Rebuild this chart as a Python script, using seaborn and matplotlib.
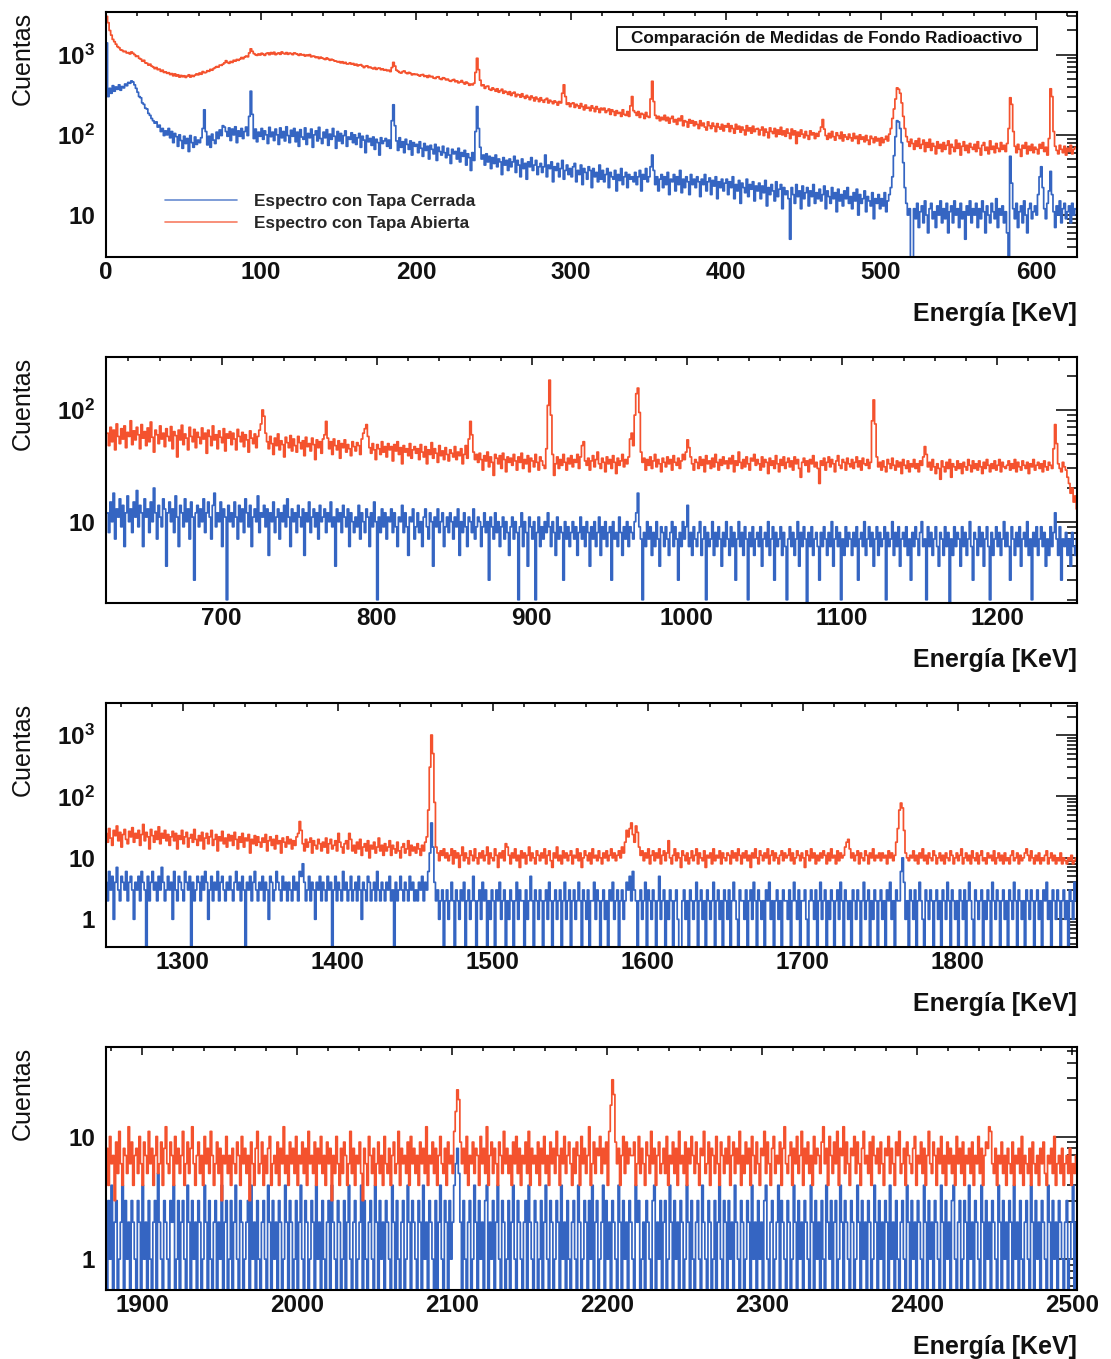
import numpy as np
import matplotlib
matplotlib.use("Agg")
import matplotlib.pyplot as plt
import seaborn as sns
from matplotlib.ticker import FixedLocator, LogLocator, MultipleLocator, FuncFormatter, NullFormatter
from matplotlib.lines import Line2D
from matplotlib.patches import Rectangle

# ---------------- data (counts per 1 keV bin) ----------------
# Panel 1 : 0 - 626 keV
RED1 = [3000, 2500, 2000, 1750, 1550, 1450, 1350, 1260, 1220, 1150, 1130, 1090, 1100, 1050, 1060, 1020, 1080, 1040, 1000, 950,
        960, 900, 880, 830, 850, 790, 780, 740, 760, 720, 700, 670, 690, 650, 660, 620, 640, 600, 610, 585,
        595, 565, 580, 545, 575, 540, 560, 525, 550, 530, 545, 520, 540, 560, 525, 550, 535, 555, 575, 560,
        590, 570, 615, 595, 600, 630, 620, 655, 640, 670, 690, 710, 700, 740, 735, 760, 790, 840, 800, 780,
        820, 800, 850, 830, 870, 850, 880, 920, 890, 930, 960, 940, 1050, 1180, 1100, 1030, 1000, 980, 1020, 990,
        1040, 1010, 980, 1030, 1050, 1000, 1060, 1020, 1070, 1000, 1030, 1050, 1010, 1080, 1040, 1020, 1060, 1010, 1045, 1030,
        1000, 1050, 1030, 1010, 980, 1020, 990, 1000, 960, 990, 970, 1000, 940, 960, 950, 920, 935, 895, 930, 905,
        890, 870, 910, 880, 850, 875, 860, 835, 830, 810, 820, 790, 815, 780, 800, 765, 770, 790, 760, 775,
        740, 760, 725, 745, 750, 720, 690, 715, 725, 690, 700, 680, 665, 690, 655, 675, 680, 650, 665, 640,
        650, 630, 640, 615, 690, 800, 720, 640, 620, 600, 590, 615, 625, 595, 580, 600, 585, 560, 575, 565,
        570, 555, 540, 560, 565, 535, 545, 520, 550, 530, 535, 510, 505, 525, 530, 500, 490, 515, 505, 485,
        495, 475, 465, 480, 490, 460, 470, 445, 455, 475, 450, 430, 455, 440, 415, 430, 420, 440, 600, 900,
        650, 480, 410, 420, 380, 400, 405, 370, 360, 385, 370, 350, 375, 340, 355, 370, 330, 350, 340, 320,
        345, 310, 330, 340, 300, 320, 315, 295, 325, 300, 285, 310, 295, 275, 305, 290, 265, 295, 280, 260,
        290, 270, 255, 275, 285, 250, 270, 260, 245, 265, 255, 235, 260, 250, 330, 420, 300, 240, 250, 225,
        245, 250, 220, 240, 230, 215, 245, 225, 205, 235, 215, 220, 200, 230, 215, 195, 225, 210, 190, 215,
        205, 215, 190, 200, 210, 180, 205, 195, 175, 200, 185, 190, 170, 205, 180, 175, 195, 170, 230, 300,
        200, 190, 175, 195, 165, 185, 180, 160, 190, 170, 165, 280, 465, 260, 175, 160, 170, 150, 165, 155,
        175, 150, 165, 140, 160, 170, 145, 155, 135, 160, 150, 172, 130, 150, 145, 125, 155, 140, 150, 130,
        145, 135, 120, 150, 130, 140, 125, 115, 145, 130, 120, 140, 128, 110, 138, 125, 118, 135, 112, 130,
        125, 138, 110, 130, 120, 105, 135, 118, 128, 108, 125, 115, 100, 130, 112, 122, 105, 128, 110, 118,
        120, 100, 115, 125, 98, 118, 108, 92, 122, 110, 104, 120, 95, 115, 102, 124, 100, 112, 96, 118,
        105, 90, 118, 100, 112, 78, 108, 96, 115, 102, 92, 110, 98, 88, 112, 100, 106, 90, 104, 96,
        110, 125, 155, 118, 98, 88, 104, 92, 110, 95, 86, 106, 98, 90, 108, 84, 100, 94, 88, 102,
        92, 84, 104, 90, 96, 78, 100, 88, 94, 82, 98, 86, 76, 96, 90, 80, 94, 84, 90, 74,
        92, 80, 88, 96, 84, 102, 120, 160, 210, 280, 385, 370, 330, 250, 170, 120, 95, 82, 72, 88,
        78, 66, 84, 72, 90, 68, 76, 86, 62, 80, 70, 88, 64, 78, 72, 58, 82, 68, 76, 62,
        80, 66, 74, 84, 58, 76, 70, 62, 86, 68, 78, 56, 72, 82, 64, 74, 60, 78, 70, 66,
        76, 62, 82, 68, 56, 74, 80, 64, 70, 58, 84, 66, 72, 60, 78, 68, 62, 80, 66, 74,
        62, 78, 120, 290, 240, 110, 72, 60, 76, 66, 54, 74, 68, 80, 58, 72, 64, 76, 60, 70,
        66, 58, 76, 68, 80, 62, 70, 56, 90, 375, 300, 110, 72, 64, 58, 74, 66, 60, 72, 56,
        68, 62, 74, 58, 66, 70]

BLUE1 = [1400, 300, 380, 330, 410, 350, 395, 370, 420, 360, 400, 385, 430, 410, 450, 440, 470, 455, 420, 380,
         340, 300, 290, 250, 240, 215, 210, 185, 175, 160, 150, 140, 145, 125, 132, 110, 120, 98, 112, 100,
         120, 92, 110, 80, 104, 95, 72, 100, 85, 68, 96, 78, 90, 62, 98, 80, 70, 94, 76, 86,
         80, 92, 120, 205, 110, 75, 96, 70, 102, 86, 78, 108, 90, 115, 98, 130, 125, 110, 96, 122,
         85, 118, 100, 126, 80, 112, 96, 120, 90, 110, 125, 98, 170, 350, 180, 90, 118, 82, 108, 96,
         120, 88, 112, 100, 78, 124, 95, 108, 85, 118, 100, 76, 122, 92, 110, 84, 126, 98, 80, 114,
         96, 120, 82, 108, 72, 116, 94, 88, 122, 76, 104, 92, 118, 70, 100, 112, 84, 124, 90, 78,
         108, 92, 116, 74, 102, 88, 120, 96, 68, 110, 84, 104, 78, 98, 112, 72, 94, 88, 106, 80,
         100, 76, 92, 104, 70, 96, 86, 60, 98, 82, 90, 74, 94, 66, 88, 80, 56, 92, 78, 84,
         90, 72, 86, 68, 150, 237, 130, 84, 64, 92, 70, 82, 60, 88, 76, 66, 84, 56, 80, 72,
         76, 60, 82, 68, 54, 78, 64, 72, 50, 74, 66, 58, 76, 48, 70, 62, 56, 72, 60, 52,
         68, 56, 44, 66, 58, 62, 50, 68, 46, 60, 54, 64, 42, 58, 52, 36, 60, 48, 110, 225,
         120, 70, 50, 56, 42, 58, 46, 54, 38, 52, 44, 56, 40, 50, 46, 32, 52, 42, 48, 36,
         50, 40, 46, 54, 34, 48, 42, 30, 50, 38, 44, 28, 46, 40, 52, 36, 42, 48, 32, 40,
         44, 34, 40, 56, 30, 42, 38, 46, 26, 40, 36, 44, 30, 38, 48, 28, 36, 42, 32, 38,
         30, 40, 44, 26, 36, 32, 42, 24, 38, 34, 28, 40, 36, 22, 38, 30, 34, 26, 42, 28,
         36, 26, 32, 38, 22, 34, 30, 28, 36, 20, 32, 27, 38, 24, 30, 34, 22, 32, 28, 30,
         26, 34, 24, 30, 36, 20, 32, 28, 38, 26, 30, 40, 56, 36, 24, 30, 20, 28, 32, 22,
         30, 24, 34, 18, 28, 26, 32, 20, 30, 24, 36, 19, 28, 22, 30, 26, 18, 32, 24, 28,
         22, 30, 26, 17, 28, 24, 32, 20, 26, 29, 18, 27, 23, 30, 16, 26, 22, 28, 20, 25,
         28, 18, 26, 22, 30, 16, 24, 20, 27, 14, 25, 22, 19, 28, 17, 24, 21, 26, 15, 23,
         20, 25, 16, 23, 19, 27, 13, 22, 18, 24, 20, 15, 26, 17, 21, 24, 12, 22, 18, 20,
         16, 5, 22, 18, 14, 24, 17, 20, 12, 23, 16, 19, 22, 13, 20, 17, 24, 14, 19, 16,
         21, 15, 18, 23, 12, 20, 17, 14, 22, 16, 19, 11, 21, 15, 18, 13, 20, 16, 22, 14,
         17, 12, 19, 15, 21, 10, 18, 14, 16, 20, 11, 17, 15, 13, 19, 9, 16, 14, 18, 12,
         16, 13, 19, 11, 15, 18, 22, 30, 55, 95, 150, 145, 120, 80, 45, 22, 14, 10, 12, 0,
         0, 12, 9, 14, 7, 11, 13, 8, 15, 10, 6, 12, 14, 9, 11, 7, 13, 10, 15, 8,
         12, 9, 14, 6, 11, 13, 8, 15, 10, 12, 7, 14, 9, 11, 5, 13, 10, 15, 8, 12,
         10, 14, 7, 12, 9, 15, 11, 6, 13, 10, 8, 14, 11, 9, 16, 7, 12, 10, 13, 8,
         11, 6, 0, 54, 25, 12, 9, 14, 7, 11, 13, 8, 15, 10, 6, 12, 14, 9, 11, 13,
         10, 18, 30, 40, 22, 12, 9, 14, 20, 35, 18, 11, 7, 13, 10, 15, 8, 12, 14, 9,
         11, 13, 8, 14, 10, 12]

# Panel 2 : 626 - 1252 keV
RED2 = [62, 48, 70, 52, 66, 44, 75, 58, 50, 68, 55, 72, 46, 63, 58, 80, 49, 65, 54, 70,
        60, 45, 74, 56, 64, 48, 69, 52, 78, 57, 42, 66, 60, 50, 72, 55, 62, 47, 68, 58,
        53, 71, 45, 64, 59, 38, 66, 54, 73, 49, 61, 56, 44, 70, 58, 52, 67, 46, 63, 57,
        50, 69, 55, 62, 41, 66, 58, 48, 72, 54, 60, 45, 65, 57, 51, 68, 43, 61, 56, 64,
        49, 62, 55, 44, 67, 58, 52, 63, 47, 60, 54, 42, 65, 56, 50, 61, 46, 58, 66, 75,
        100, 88, 62, 52, 45, 58, 50, 40, 56, 48, 61, 44, 53, 49, 38, 57, 51, 46, 59, 43,
        55, 48, 42, 58, 51, 45, 53, 39, 57, 47, 50, 43, 56, 49, 36, 54, 46, 52, 41, 55,
        60, 79, 56, 45, 52, 40, 55, 48, 44, 53, 37, 50, 46, 54, 42, 49, 45, 39, 52, 47,
        43, 51, 48, 40, 55, 62, 68, 74, 58, 46, 41, 50, 44, 36, 49, 45, 40, 52, 42, 47,
        38, 50, 44, 47, 35, 49, 43, 52, 40, 46, 33, 48, 42, 45, 39, 50, 37, 44, 47, 41,
        45, 36, 49, 42, 38, 47, 33, 44, 40, 51, 37, 45, 41, 34, 48, 39, 43, 36, 46, 40,
        35, 44, 41, 38, 47, 36, 42, 39, 45, 33, 40, 48, 37, 55, 79, 60, 42, 36, 40, 34,
        41, 36, 29, 39, 35, 42, 31, 38, 34, 26, 40, 37, 33, 39, 30, 41, 36, 28, 38, 34,
        37, 32, 40, 35, 29, 38, 34, 41, 30, 36, 33, 39, 28, 37, 35, 31, 40, 34, 29, 38,
        35, 32, 30, 45, 110, 185, 90, 40, 26, 33, 38, 30, 36, 32, 40, 34, 29, 37, 33, 39,
        31, 36, 34, 40, 30, 38, 48, 52, 35, 32, 37, 29, 35, 39, 31, 36, 42, 33, 30, 37,
        34, 28, 38, 33, 36, 30, 39, 34, 27, 37, 32, 35, 40, 31, 36, 33, 38, 55, 62, 48,
        90, 140, 157, 95, 42, 34, 37, 29, 36, 32, 38, 30, 35, 40, 31, 36, 33, 28, 37, 34,
        31, 38, 33, 36, 29, 39, 34, 32, 37, 30, 35, 40, 36, 42, 54, 46, 38, 33, 29, 36,
        34, 30, 38, 32, 36, 28, 39, 33, 35, 30, 37, 31, 40, 34, 29, 36, 32, 38, 33, 35,
        30, 37, 33, 39, 28, 35, 32, 42, 34, 30, 36, 31, 38, 33, 29, 37, 35, 40, 32, 36,
        33, 29, 38, 31, 36, 34, 27, 37, 32, 35, 30, 39, 33, 28, 36, 32, 38, 30, 34, 37,
        31, 35, 29, 38, 33, 36, 30, 25, 34, 37, 32, 35, 28, 36, 33, 39, 31, 34, 30, 22,
        35, 32, 37, 29, 34, 38, 31, 36, 33, 28, 35, 39, 32, 30, 36, 34, 29, 37, 33, 31,
        36, 30, 34, 38, 31, 35, 29, 37, 33, 32, 36, 30, 34, 80, 123, 75, 38, 31, 34, 29,
        35, 31, 28, 36, 33, 30, 37, 32, 29, 35, 31, 34, 27, 36, 32, 30, 35, 28, 33, 31,
        36, 30, 33, 28, 35, 32, 38, 47, 40, 31, 34, 29, 36, 31, 27, 33, 30, 24, 35, 31,
        28, 34, 30, 36, 25, 33, 31, 29, 35, 30, 33, 27, 34, 31, 29, 36, 32, 28, 35, 30,
        33, 29, 35, 31, 27, 34, 30, 36, 32, 28, 33, 30, 35, 29, 32, 36, 28, 34, 31, 30,
        32, 35, 29, 33, 30, 36, 28, 34, 31, 29, 35, 32, 30, 34, 27, 33, 31, 36, 29, 32,
        34, 30, 33, 28, 35, 31, 29, 34, 32, 30, 45, 74, 50, 33, 30, 28, 34, 31, 29, 25,
        22, 18, 20, 15, 17, 13]

BLUE2 = [12, 8, 15, 10, 18, 7, 13, 11, 16, 9, 14, 6, 12, 17, 10, 13, 8, 15, 11, 19,
         9, 14, 12, 6, 16, 11, 13, 8, 15, 10, 20, 12, 7, 14, 11, 9, 16, 13, 4, 12,
         15, 10, 13, 8, 17, 11, 6, 14, 12, 9, 16, 10, 13, 7, 15, 11, 3, 12, 14, 9,
         13, 10, 16, 8, 12, 15, 11, 7, 14, 18, 9, 12, 10, 15, 6, 13, 11, 2, 14, 10,
         12, 9, 15, 11, 7, 14, 10, 13, 8, 16, 12, 9, 14, 6, 11, 13, 10, 17, 8, 12,
         11, 14, 9, 13, 5, 12, 10, 15, 8, 11, 13, 7, 12, 10, 14, 9, 16, 11, 6, 13,
         10, 12, 8, 14, 11, 9, 13, 5, 12, 10, 15, 8, 11, 13, 9, 12, 7, 14, 10, 11,
         13, 8, 12, 10, 15, 9, 11, 4, 13, 10, 12, 8, 14, 11, 9, 13, 6, 12, 10, 8,
         11, 9, 14, 7, 12, 10, 8, 13, 11, 6, 12, 9, 15, 10, 2, 11, 8, 13, 9, 12,
         7, 11, 10, 13, 8, 12, 9, 6, 11, 10, 14, 8, 12, 9, 5, 11, 10, 13, 7, 9,
         12, 8, 10, 6, 11, 13, 9, 7, 12, 10, 4, 11, 9, 13, 8, 10, 12, 6, 9, 11,
         8, 12, 10, 7, 11, 9, 13, 5, 10, 8, 12, 9, 6, 11, 10, 8, 13, 7, 9, 11,
         10, 6, 9, 12, 8, 10, 3, 11, 9, 7, 12, 8, 10, 6, 9, 11, 7, 10, 8, 5,
         9, 11, 7, 10, 8, 2, 9, 12, 6, 10, 8, 4, 11, 9, 7, 10, 2, 8, 11, 6,
         9, 7, 10, 8, 12, 9, 6, 10, 8, 5, 11, 7, 9, 8, 3, 10, 7, 9, 6, 8,
         10, 7, 9, 5, 8, 11, 7, 9, 6, 10, 8, 4, 9, 7, 10, 6, 8, 11, 5, 9,
         7, 10, 6, 8, 9, 3, 10, 7, 8, 6, 11, 8, 5, 9, 7, 10, 6, 9, 8, 7,
         10, 12, 18, 9, 7, 2, 8, 6, 10, 7, 9, 5, 8, 6, 10, 7, 4, 9, 8, 6,
         9, 7, 5, 8, 10, 6, 9, 7, 3, 8, 6, 10, 7, 9, 14, 6, 8, 5, 9, 7,
         6, 8, 10, 5, 7, 9, 2, 8, 6, 7, 10, 5, 8, 6, 9, 7, 4, 8, 6, 10,
         7, 5, 9, 6, 8, 3, 7, 10, 6, 8, 5, 9, 7, 2, 8, 6, 9, 5, 7, 8,
         6, 9, 4, 7, 8, 6, 10, 5, 7, 9, 3, 8, 6, 7, 9, 5, 8, 6, 2, 7,
         9, 6, 8, 5, 7, 10, 4, 8, 6, 9, 7, 1, 8, 6, 9, 5, 7, 8, 6, 3,
         8, 6, 9, 7, 5, 8, 6, 10, 4, 7, 9, 6, 8, 2, 7, 5, 9, 6, 8, 7,
         5, 8, 6, 9, 3, 7, 8, 6, 10, 5, 7, 9, 6, 8, 4, 7, 9, 5, 8, 6,
         7, 9, 2, 8, 6, 7, 10, 5, 8, 6, 9, 4, 7, 8, 6, 9, 5, 7, 3, 8,
         6, 9, 7, 5, 8, 10, 6, 7, 2, 9, 6, 8, 5, 7, 9, 6, 4, 8, 7, 5,
         9, 6, 8, 1, 7, 5, 9, 6, 8, 7, 4, 9, 6, 8, 5, 7, 10, 6, 3, 8,
         7, 5, 9, 6, 8, 4, 7, 9, 6, 2, 8, 5, 7, 9, 6, 8, 5, 7, 10, 6,
         8, 6, 3, 9, 7, 5, 8, 6, 9, 4, 7, 8, 6, 10, 5, 7, 2, 8, 6, 9,
         5, 7, 9, 6, 8, 4, 7, 5, 9, 6, 8, 12, 7, 5, 9, 3, 7, 6, 8, 5,
         7, 4, 8, 6, 5, 7]

# Panel 3 : 1250 - 1877 keV
RED3 = [25, 18, 30, 21, 16, 28, 23, 33, 19, 26, 15, 24, 29, 20, 17, 27, 22, 31, 18, 25,
        21, 28, 16, 24, 35, 19, 26, 22, 14, 29, 23, 18, 27, 20, 32, 17, 25, 21, 28, 19,
        24, 16, 22, 27, 19, 25, 14, 23, 20, 28, 17, 22, 26, 15, 21, 24, 18, 29, 20, 16,
        23, 19, 26, 14, 21, 25, 17, 22, 28, 16, 20, 24, 13, 22, 19, 27, 17, 21, 15, 24,
        19, 23, 16, 26, 20, 14, 22, 18, 25, 15, 21, 19, 24, 12, 20, 17, 23, 16, 22, 18,
        15, 21, 18, 24, 13, 19, 22, 16, 20, 14, 23, 17, 19, 12, 21, 18, 15, 22, 17, 20,
        14, 19, 16, 22, 25, 39, 28, 17, 13, 20, 15, 18, 21, 12, 19, 16, 14, 20, 17, 13,
        18, 15, 21, 12, 17, 20, 14, 16, 19, 13, 25, 18, 15, 12, 17, 19, 14, 25, 20, 13,
        16, 12, 18, 14, 20, 11, 15, 17, 13, 19, 10, 16, 14, 18, 12, 15, 21, 13, 16, 11,
        17, 13, 15, 19, 11, 16, 14, 12, 18, 13, 10, 15, 17, 12, 14, 19, 11, 16, 13, 15,
        12, 17, 14, 11, 16, 13, 18, 22, 60, 300, 1000, 500, 80, 15, 12, 9, 13, 11, 14, 10,
        12, 9, 11, 14, 8, 13, 10, 12, 7, 11, 15, 9, 12, 10, 8, 13, 11, 9, 14, 10,
        8, 12, 10, 13, 9, 11, 15, 8, 12, 10, 9, 14, 11, 7, 12, 10, 13, 9, 17, 15,
        11, 8, 12, 10, 14, 9, 11, 7, 13, 10, 12, 8, 11, 15, 9, 12, 10, 8, 13, 11,
        9, 12, 10, 14, 8, 11, 13, 9, 7, 12, 10, 15, 9, 11, 8, 13, 10, 12, 9, 11,
        13, 8, 11, 10, 14, 9, 12, 7, 10, 13, 11, 9, 12, 8, 14, 10, 11, 9, 13, 10,
        8, 12, 10, 13, 9, 11, 14, 10, 12, 9, 11, 13, 10, 15, 12, 18, 28, 22, 30, 37,
        24, 18, 33, 26, 15, 11, 13, 9, 12, 10, 14, 8, 11, 13, 9, 12, 10, 14, 8, 11,
        13, 9, 12, 19, 10, 8, 11, 14, 9, 12, 10, 7, 13, 11, 9, 12, 8, 10, 13, 9,
        11, 14, 8, 12, 10, 9, 13, 7, 11, 10, 12, 8, 14, 9, 11, 10, 13, 8, 12, 10,
        9, 12, 11, 8, 13, 10, 12, 9, 14, 11, 8, 12, 10, 13, 9, 11, 7, 12, 10, 14,
        10, 8, 13, 11, 9, 12, 10, 14, 8, 11, 13, 9, 12, 10, 8, 11, 13, 9, 12, 10,
        11, 14, 9, 12, 8, 10, 13, 11, 9, 12, 10, 7, 13, 11, 9, 14, 10, 12, 8, 11,
        9, 12, 10, 13, 11, 8, 12, 9, 14, 10, 11, 8, 13, 9, 12, 10, 11, 15, 18, 20,
        14, 10, 12, 9, 11, 13, 8, 12, 10, 9, 13, 11, 8, 12, 10, 14, 9, 11, 10, 12,
        9, 12, 10, 11, 8, 13, 10, 12, 9, 11, 18, 30, 60, 78, 65, 28, 12, 10, 9, 11,
        10, 13, 9, 11, 8, 12, 10, 14, 9, 11, 8, 12, 10, 9, 13, 11, 8, 10, 12, 9,
        11, 8, 12, 10, 9, 13, 11, 8, 10, 12, 9, 11, 14, 8, 10, 12, 9, 11, 8, 13,
        10, 9, 12, 8, 11, 13, 9, 10, 8, 12, 10, 11, 9, 13, 8, 10, 12, 9, 11, 8,
        12, 9, 10, 8, 11, 13, 9, 10, 12, 8, 11, 9, 10, 12, 14, 11, 9, 13, 10, 8,
        11, 9, 12, 8, 10, 9, 11, 13, 8, 10, 12, 9, 11, 8, 10, 9, 12, 8, 10, 9,
        8, 10, 9, 11, 8, 9, 10]

BLUE3 = [4, 2, 6, 3, 5, 1, 4, 7, 3, 2, 5, 4, 3, 6, 2, 4, 5, 3, 1, 4,
         3, 5, 2, 6, 4, 3, 0, 5, 2, 4, 6, 3, 4, 2, 5, 3, 7, 4, 2, 3,
         5, 3, 4, 1, 6, 3, 2, 5, 4, 3, 2, 6, 4, 3, 5, 0, 4, 2, 3, 5,
         4, 2, 5, 3, 6, 4, 1, 3, 5, 2, 4, 3, 6, 2, 4, 5, 3, 2, 4, 3,
         5, 3, 2, 4, 6, 3, 4, 2, 5, 3, 0, 4, 3, 5, 2, 4, 6, 3, 2, 4,
         3, 5, 2, 4, 3, 1, 5, 4, 2, 3, 6, 4, 3, 2, 5, 3, 4, 2, 4, 3,
         2, 5, 3, 4, 2, 6, 5, 8, 4, 2, 3, 5, 2, 4, 3, 1, 4, 3, 5, 2,
         4, 3, 2, 5, 3, 4, 0, 3, 5, 2, 4, 3, 2, 6, 3, 4, 2, 3, 5, 2,
         3, 4, 2, 5, 3, 1, 4, 3, 2, 5, 4, 2, 3, 4, 2, 6, 3, 2, 4, 3,
         2, 4, 3, 5, 2, 3, 0, 4, 2, 3, 5, 3, 2, 4, 3, 2, 5, 3, 4, 2,
         3, 2, 4, 3, 5, 2, 4, 3, 6, 12, 37, 15, 4, 2, 3, 1, 2, 3, 0, 2,
         3, 1, 2, 4, 2, 0, 3, 2, 1, 3, 2, 4, 0, 2, 3, 1, 2, 5, 2, 0,
         2, 3, 1, 4, 2, 3, 0, 2, 1, 3, 2, 0, 3, 2, 4, 1, 2, 3, 0, 2,
         1, 3, 2, 0, 2, 4, 1, 3, 2, 2, 0, 3, 1, 2, 5, 2, 0, 3, 2, 1,
         3, 2, 0, 2, 3, 1, 4, 2, 0, 2, 3, 1, 2, 3, 0, 2, 4, 1, 2, 3,
         0, 2, 3, 1, 2, 4, 2, 0, 3, 2, 1, 3, 0, 2, 2, 4, 1, 3, 2, 0,
         2, 3, 1, 2, 0, 3, 2, 4, 1, 2, 3, 0, 2, 3, 1, 2, 4, 3, 5, 2,
         6, 3, 2, 0, 2, 3, 1, 2, 4, 0, 3, 2, 1, 3, 2, 0, 2, 5, 1, 2,
         3, 0, 2, 1, 3, 2, 0, 2, 3, 1, 0, 0, 2, 3, 1, 2, 0, 3, 2, 1,
         2, 4, 0, 2, 3, 1, 2, 0, 3, 2, 1, 2, 4, 0, 2, 3, 1, 2, 0, 3,
         2, 1, 3, 0, 2, 4, 2, 1, 0, 3, 2, 2, 1, 3, 0, 2, 3, 1, 4, 2,
         0, 3, 2, 1, 2, 0, 3, 2, 4, 1, 2, 0, 2, 3, 1, 2, 0, 3, 2, 2,
         1, 3, 0, 2, 4, 2, 1, 3, 0, 2, 2, 3, 1, 0, 2, 3, 2, 1, 3, 0,
         2, 4, 1, 2, 3, 0, 2, 1, 3, 2, 0, 2, 3, 1, 4, 2, 0, 3, 2, 1,
         2, 0, 3, 2, 1, 3, 2, 0, 2, 4, 1, 2, 3, 0, 2, 1, 3, 2, 0, 2,
         3, 1, 2, 0, 3, 2, 4, 1, 2, 0, 3, 2, 2, 6, 10, 4, 1, 2, 0, 3,
         2, 1, 3, 0, 2, 4, 2, 1, 0, 3, 2, 1, 3, 2, 0, 2, 3, 1, 2, 0,
         3, 2, 1, 4, 2, 0, 3, 2, 1, 2, 0, 3, 2, 1, 3, 0, 2, 4, 2, 1,
         0, 3, 2, 1, 2, 3, 0, 2, 1, 3, 2, 0, 4, 2, 1, 3, 2, 0, 2, 3,
         1, 2, 0, 3, 2, 1, 4, 2, 0, 3, 2, 1, 2, 0, 3, 2, 1, 3, 2, 0,
         2, 3, 1, 2, 0, 3, 2, 4, 1, 2, 0, 3, 2, 1, 3, 2, 0, 2, 3, 1,
         2, 0, 3, 2, 1, 4, 2]

# Panel 4 : 1876 - 2503 keV
RED4 = [5, 8, 4, 10, 6, 7, 3, 9, 5, 11, 6, 4, 8, 7, 5, 12, 6, 9, 4, 7,
        8, 5, 10, 6, 4, 9, 7, 5, 11, 6, 8, 4, 7, 10, 5, 6, 9, 4, 8, 12,
        6, 5, 9, 7, 4, 10, 6, 8, 5, 7, 11, 4, 6, 9, 5, 8, 12, 6, 4, 7,
        9, 5, 7, 4, 10, 6, 8, 5, 11, 7, 4, 6, 9, 5, 8, 3, 7, 6, 10, 5,
        7, 4, 8, 6, 5, 9, 7, 4, 10, 6, 8, 5, 7, 3, 9, 6, 4, 8, 11, 5,
        6, 9, 4, 7, 5, 8, 10, 4, 6, 7, 5, 9, 4, 8, 6, 12, 5, 7, 4, 9,
        6, 8, 5, 10, 4, 7, 6, 9, 5, 8, 4, 11, 6, 7, 5, 9, 4, 8, 6, 10,
        5, 7, 4, 9, 6, 8, 3, 7, 5, 10, 6, 4, 8, 5, 9, 7, 4, 6, 11, 5,
        8, 4, 7, 6, 9, 5, 3, 8, 6, 4, 10, 7, 5, 8, 4, 6, 9, 5, 7, 4,
        10, 6, 5, 8, 4, 7, 9, 5, 6, 11, 4, 8, 6, 7, 5, 9, 4, 10, 6, 8,
        5, 7, 4, 9, 6, 8, 5, 12, 4, 7, 6, 9, 5, 8, 4, 7, 10, 6, 5, 8,
        4, 9, 6, 7, 5, 11, 16, 24, 20, 9, 6, 8, 5, 10, 4, 7, 6, 9, 5, 8,
        7, 4, 10, 6, 8, 5, 12, 4, 7, 9, 5, 8, 6, 4, 9, 7, 5, 11, 6, 8,
        5, 7, 4, 9, 6, 10, 5, 8, 4, 7, 6, 9, 5, 11, 4, 8, 6, 7, 5, 9,
        4, 8, 6, 10, 5, 7, 4, 9, 6, 8, 5, 11, 7, 4, 8, 6, 10, 5, 7, 9,
        6, 4, 8, 5, 9, 7, 4, 10, 6, 8, 5, 7, 12, 4, 6, 9, 5, 8, 7, 10,
        5, 8, 6, 9, 4, 11, 18, 29, 22, 9, 6, 8, 4, 7, 10, 5, 9, 6, 8, 7,
        7, 9, 4, 6, 10, 5, 8, 6, 4, 9, 7, 5, 11, 6, 8, 4, 7, 9, 5, 6,
        8, 5, 10, 4, 7, 6, 9, 5, 8, 4, 11, 6, 7, 5, 9, 4, 8, 6, 10, 7,
        5, 9, 6, 4, 8, 7, 11, 5, 6, 9, 4, 8, 7, 5, 10, 6, 4, 9, 7, 5,
        8, 6, 10, 4, 7, 9, 5, 8, 6, 11, 4, 7, 5, 9, 6, 8, 4, 10, 7, 5,
        9, 6, 4, 8, 7, 11, 5, 9, 6, 4, 8, 10, 5, 7, 6, 9, 4, 8, 12, 6,
        5, 7, 9, 4, 8, 6, 10, 5, 7, 11, 4, 8, 6, 9, 5, 7, 4, 10, 6, 8,
        7, 5, 9, 12, 6, 8, 4, 10, 7, 5, 9, 6, 11, 4, 8, 7, 12, 5, 9, 6,
        4, 8, 7, 10, 5, 9, 6, 4, 8, 11, 6, 7, 5, 9, 4, 10, 7, 6, 8, 5,
        9, 6, 4, 8, 7, 10, 5, 8, 6, 4, 9, 7, 11, 5, 6, 8, 4, 9, 7, 6,
        5, 8, 10, 4, 7, 6, 9, 5, 8, 4, 7, 11, 6, 5, 9, 7, 4, 8, 6, 10,
        5, 7, 4, 9, 6, 8, 5, 7, 4, 10, 6, 8, 5, 9, 4, 7, 6, 8, 5, 9,
        4, 7, 6, 10, 5, 8, 4, 7, 9, 8, 12, 11, 6, 5, 8, 4, 7, 6, 9, 5,
        7, 4, 8, 6, 5, 9, 4, 7, 6, 8, 5, 10, 4, 7, 6, 5, 8, 4, 9, 6,
        5, 7, 4, 8, 6, 9, 5, 4, 7, 6, 8, 5, 10, 4, 6, 7, 5, 8, 4, 6,
        7, 5, 8, 4, 6, 5, 7]

BLUE4 = [2, 0, 3, 1, 4, 0, 2, 3, 0, 1, 2, 4, 0, 3, 1, 2, 0, 3, 2, 1,
         0, 3, 2, 0, 4, 1, 2, 0, 3, 1, 0, 2, 3, 0, 5, 2, 1, 0, 3, 2,
         1, 0, 3, 2, 4, 0, 1, 3, 0, 2, 3, 1, 0, 4, 2, 0, 3, 1, 2, 0,
         3, 2, 0, 1, 4, 2, 0, 3, 1, 0, 2, 3, 0, 2, 1, 4, 0, 2, 3, 0,
         1, 3, 0, 2, 4, 1, 0, 3, 2, 0, 1, 2, 3, 0, 4, 1, 2, 0, 3, 1,
         0, 2, 3, 1, 0, 4, 2, 0, 3, 1, 2, 0, 3, 2, 0, 1, 4, 2, 0, 3,
         2, 0, 1, 3, 0, 2, 4, 1, 0, 3, 2, 0, 1, 3, 2, 0, 4, 1, 2, 0,
         3, 1, 0, 2, 3, 0, 4, 2, 1, 0, 3, 2, 0, 1, 3, 0, 2, 4, 1, 0,
         2, 3, 0, 1, 2, 4, 0, 3, 1, 0, 2, 3, 1, 0, 4, 2, 0, 3, 1, 2,
         0, 3, 2, 1, 0, 4, 2, 0, 3, 1, 0, 2, 3, 0, 1, 4, 2, 0, 3, 2,
         1, 0, 3, 2, 0, 4, 1, 2, 0, 3, 2, 1, 0, 3, 0, 2, 4, 1, 0, 3,
         2, 0, 3, 1, 2, 4, 6, 8, 5, 2, 0, 3, 1, 0, 2, 3, 0, 1, 4, 2,
         0, 3, 1, 2, 0, 3, 4, 0, 2, 1, 3, 0, 2, 4, 1, 0, 3, 2, 0, 1,
         3, 0, 2, 4, 1, 0, 3, 2, 1, 0, 2, 3, 0, 4, 2, 1, 0, 3, 2, 0,
         1, 3, 0, 2, 4, 1, 0, 3, 2, 0, 1, 3, 2, 0, 4, 1, 2, 0, 3, 1,
         0, 2, 3, 1, 0, 4, 2, 0, 1, 3, 2, 0, 3, 1, 4, 0, 2, 3, 0, 1,
         2, 4, 0, 3, 1, 2, 0, 3, 2, 1, 0, 4, 2, 0, 3, 1, 2, 0, 3, 2,
         1, 0, 4, 2, 3, 0, 1, 2, 0, 3, 2, 1, 0, 3, 4, 0, 2, 1, 3, 0,
         2, 3, 0, 1, 4, 2, 0, 3, 1, 2, 0, 3, 2, 0, 1, 4, 2, 0, 3, 1,
         0, 2, 3, 1, 0, 4, 2, 1, 0, 3, 2, 0, 1, 3, 0, 2, 4, 1, 0, 3,
         2, 0, 3, 1, 2, 0, 4, 2, 1, 0, 3, 2, 0, 1, 3, 2, 0, 4, 1, 2,
         0, 3, 1, 2, 0, 3, 4, 1, 0, 2, 3, 0, 1, 2, 4, 0, 3, 2, 1, 0,
         3, 2, 0, 1, 4, 2, 0, 3, 1, 2, 0, 3, 2, 1, 0, 4, 2, 0, 3, 1,
         2, 0, 3, 1, 0, 4, 2, 1, 3, 0, 2, 3, 0, 1, 4, 2, 0, 3, 2, 1,
         0, 3, 2, 0, 1, 4, 2, 0, 3, 1, 2, 0, 3, 2, 0, 1, 4, 2, 0, 3,
         1, 2, 0, 3, 2, 0, 4, 1, 2, 0, 3, 1, 0, 2, 3, 1, 0, 4, 2, 0,
         3, 1, 2, 0, 3, 2, 1, 0, 4, 2, 0, 3, 1, 2, 0, 3, 2, 1, 0, 4,
         2, 0, 3, 1, 2, 0, 3, 4, 1, 0, 2, 3, 0, 1, 3, 2, 0, 4, 1, 2,
         0, 3, 2, 1, 0, 4, 2, 0, 3, 1, 2, 0, 3, 2, 1, 0, 4, 2, 0, 3,
         1, 2, 0, 3, 2, 0, 4, 1, 2, 0, 3, 1, 0, 2, 3, 1, 0, 4, 2, 0,
         3, 1, 2, 0, 3, 2, 1, 0, 4, 2, 0, 3, 1, 2, 0, 3, 2, 1, 0, 2,
         3, 0, 1, 2, 4, 0, 2]

# first bin edge of every panel (keV); all bins are 1 keV wide
BIN_START = [0, 626, 1250, 1876]
BIN_WIDTH = 1.0
XLIMS = [(0, 626.5), (625.5, 1251.5), (1250.4, 1877), (1876.8, 2503)]
YLIMS = [(3.0, 3430), (1.86, 300), (0.35, 3360), (0.56, 54)]
YMAJOR = [[10, 100, 1000], [10, 100], [1, 10, 100, 1000], [1, 10]]

LEGEND_LABELS = ["Espectro con Tapa Cerrada", "Espectro con Tapa Abierta"]
TITLE = "Comparación de Medidas de Fondo Radioactivo"
XLABEL = "Energía [KeV]"
YLABEL = "Cuentas"

RED_C = "#f4522e"
BLUE_C = "#3565c2"

# ---------------- style ----------------
sns.set_theme(style="white")
plt.rcParams["font.family"] = ["Liberation Sans", "DejaVu Sans"]
plt.rcParams["mathtext.fontset"] = "custom"
plt.rcParams["mathtext.rm"] = "Liberation Sans:bold"
plt.rcParams["mathtext.bf"] = "Liberation Sans:bold"
plt.rcParams["mathtext.it"] = "Liberation Sans:bold"

W, H = 1111, 1359
fig = plt.figure(figsize=(W / 100, H / 100), dpi=100)
fig.patch.set_facecolor("white")

# axes pixel boxes (top, bottom)
boxes = [(11.7, 257.0), (356.7, 603.3), (702.7, 947.3), (1046.7, 1290.0)]
LEFT, RIGHT = 106, 1077


def yfmt(v, pos):
    if v <= 1.001:
        return "1"
    if v < 11:
        return "10"
    e = int(round(np.log10(v)))
    return r"$10^{%d}$" % e


def xfmt(v, pos):
    return "%d" % int(round(v))


def draw_hist(ax, vals, start, width, color):
    y = np.asarray(vals, dtype=float)
    x = start + width * (np.arange(len(y)) + 0.5)
    y_plot = np.where(y > 0, y, 1e-3)  # empty bins fall to the bottom of the log axis
    sns.lineplot(x=x, y=y_plot, ax=ax, color=color, linewidth=1.25,
                 drawstyle="steps-mid", estimator=None, sort=False, legend=False)


reds = [RED1, RED2, RED3, RED4]
blues = [BLUE1, BLUE2, BLUE3, BLUE4]

for i in range(4):
    top, bot = boxes[i]
    hpx = bot - top
    ax = fig.add_axes([LEFT / W, 1 - bot / H, (RIGHT - LEFT) / W, hpx / H])
    ax.set_yscale("log")
    ax.set_facecolor("white")

    draw_hist(ax, blues[i], BIN_START[i], BIN_WIDTH, BLUE_C)
    draw_hist(ax, reds[i], BIN_START[i], BIN_WIDTH, RED_C)

    ax.set_xlim(*XLIMS[i])
    ax.set_ylim(*YLIMS[i])
    ax.set_xlabel("")
    ax.set_ylabel("")

    ax.xaxis.set_major_locator(MultipleLocator(100))
    ax.xaxis.set_minor_locator(MultipleLocator(20))
    ax.xaxis.set_major_formatter(FuncFormatter(xfmt))
    ax.yaxis.set_major_locator(FixedLocator(YMAJOR[i]))
    ax.yaxis.set_minor_locator(LogLocator(base=10, subs=np.arange(2, 10)))
    ax.yaxis.set_major_formatter(FuncFormatter(yfmt))
    ax.yaxis.set_minor_formatter(NullFormatter())

    ax.tick_params(axis="both", which="both", direction="in", top=True, right=True,
                   color="black", width=1.1)
    ax.tick_params(axis="x", which="major", length=6, pad=3, labelsize=17.5)
    ax.tick_params(axis="x", which="minor", length=3)
    ax.tick_params(axis="y", which="major", length=15, pad=8, labelsize=17.5)
    ax.tick_params(axis="y", which="minor", length=7.5)
    for lab in ax.get_xticklabels() + ax.get_yticklabels():
        lab.set_fontweight("bold")
        lab.set_color("#111111")

    for sp in ax.spines.values():
        sp.set_visible(True)
        sp.set_color("black")
        sp.set_linewidth(1.5)
        sp.set_zorder(4)
    ax.grid(False)

    ax.text(1.0, -64 / hpx, XLABEL, transform=ax.transAxes, ha="right", va="baseline",
            fontsize=18, fontweight="bold", color="#111111")
    ax.text((23 - LEFT) / (RIGHT - LEFT), 1.0, YLABEL, transform=ax.transAxes,
            rotation=90, ha="center", va="top", fontsize=18, color="#111111")

    if i == 0:
        handles = [Line2D([], [], color=BLUE_C, lw=1.2, alpha=0.75),
                   Line2D([], [], color=RED_C, lw=1.2, alpha=0.75)]
        ax.legend(handles, LEGEND_LABELS, loc="center left",
                  bbox_to_anchor=((165 - LEFT) / (RIGHT - LEFT), 1 - (212.5 - top) / hpx),
                  frameon=False, borderpad=0, borderaxespad=0, handlelength=4.2,
                  handletextpad=1.0, labelspacing=0.38,
                  prop={"size": 12.3, "weight": "bold"})
        x0 = (617 - LEFT) / (RIGHT - LEFT)
        x1 = (1037 - LEFT) / (RIGHT - LEFT)
        y0 = 1 - (50 - top) / hpx
        y1 = 1 - (27 - top) / hpx
        ax.add_patch(Rectangle((x0, y0), x1 - x0, y1 - y0, transform=ax.transAxes,
                               facecolor="white", edgecolor="black", lw=1.3, zorder=5))
        ax.text((x0 + x1) / 2, (y0 + y1) / 2, TITLE, transform=ax.transAxes,
                ha="center", va="center", fontsize=12.3, fontweight="bold",
                color="#111111", zorder=6)

fig.savefig("out.png", dpi=100, facecolor="white")
